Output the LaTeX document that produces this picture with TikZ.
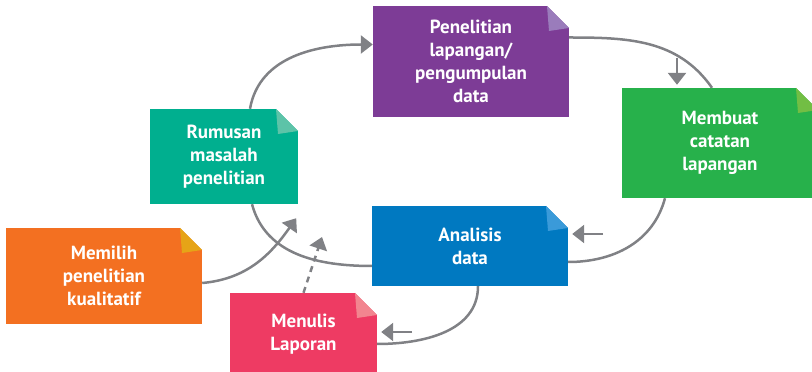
\documentclass[tikz,border=0pt]{standalone}
\usepackage{fontspec}
\setmainfont{PT Sans}
\usepackage{xcolor}
\definecolor{noteOrange}{HTML}{F37021}
\definecolor{noteOrangeFold}{HTML}{E6A417}
\definecolor{noteTeal}{HTML}{00AF8F}
\definecolor{noteTealFold}{HTML}{5DC3A8}
\definecolor{notePurple}{HTML}{7D3C96}
\definecolor{notePurpleFold}{HTML}{9A7CBB}
\definecolor{noteGreen}{HTML}{27B14B}
\definecolor{noteGreenFold}{HTML}{72BE44}
\definecolor{noteBlue}{HTML}{0079C1}
\definecolor{noteBlueFold}{HTML}{3A9AD9}
\definecolor{notePink}{HTML}{EE3B63}
\definecolor{notePinkFold}{HTML}{F2858F}
\definecolor{linkGray}{HTML}{808185}
\usetikzlibrary{arrows.meta}

\begin{document}
\begin{tikzpicture}[
		x=1pt, y=1pt,
		note/.style={
			rectangle,
			fill=#1,
			inner sep=0pt,
			align=center,
			text=white,
			font=\bfseries\fontsize{19}{23}\selectfont,
			path picture={
				\fill[white] ([xshift=-22pt]path picture bounding box.north east) -- (path picture bounding box.north east) -- ([yshift=-22pt]path picture bounding box.north east) -- cycle;
				\fill[#1Fold] ([xshift=-22pt]path picture bounding box.north east) -- ([yshift=-22pt]path picture bounding box.north east) -- ([shift={(-20pt,-25pt)}]path picture bounding box.north east) -- cycle;
			}
		},
		link/.style={draw=linkGray, line width=2.5pt},
		arrow/.style={link, -{Triangle[width=18pt,length=12pt]}}
		]
		
		\clip (0,0) rectangle (812,372);
		
		\node[note=noteOrange, minimum width=196pt, minimum height=96pt] (choose) at (104,96) {Memilih\\penelitian\\kualitatif};
		\node[note=noteTeal, minimum width=148pt, minimum height=95pt] (problem) at (224,215.5) {Rumusan\\masalah\\penelitian};
		\node[note=notePurple, minimum width=196pt, minimum height=111pt] (field) at (471,310.5) {Penelitian\\lapangan/\\pengumpulan\\data};
		\node[note=noteGreen, minimum width=196pt, minimum height=110pt] (notes) at (720,229) {Membuat\\catatan\\lapangan};
		\node[note=noteBlue, minimum width=196pt, minimum height=80pt] (analysis) at (470,126) {Analisis\\data};
		\node[note=notePink, minimum width=147pt, minimum height=82pt] (report) at (303.5,38) {Menulis\\Laporan};
		
		\coordinate (fieldTap) at (677,314);
		\coordinate (notesTap) at (603,138);
		\coordinate (reportTap) at (412,40);
		\coordinate (draftTip) at (322,135);
		
		\draw[arrow] ([yshift=-7pt]choose.east) to[out=5, in=-125] ([shift={(-2pt,-14pt)}]problem.south east);
		\draw[arrow] ([xshift=26pt]problem.north) to[out=80, in=180] ([yshift=17pt]field.west);
		\draw[link] ([yshift=24pt]field.east) to[out=0, in=125] ([xshift=-8pt]notes.north);
		\draw[arrow] (fieldTap) -- ([shift={(-43pt,3pt)}]notes.north);
		\draw[link] ([xshift=-55pt]notes.south) to[out=-105, in=0] ([yshift=-16pt]analysis.east);
		\draw[arrow] (notesTap) -- ([shift={(4pt,12pt)}]analysis.east);
		\draw[link] ([xshift=28pt]problem.south) to[out=-75, in=180] ([yshift=-20pt]analysis.west);
		\draw[link] ([xshift=8pt]analysis.south) to[out=-90, in=0] ([yshift=-10pt]report.east);
		\draw[arrow] (reportTap) -- ([shift={(4pt,2pt)}]report.east);
		\draw[arrow, dash pattern=on 6pt off 5pt] (report.north) -- (draftTip);
		
	\end{tikzpicture}
\end{document}
